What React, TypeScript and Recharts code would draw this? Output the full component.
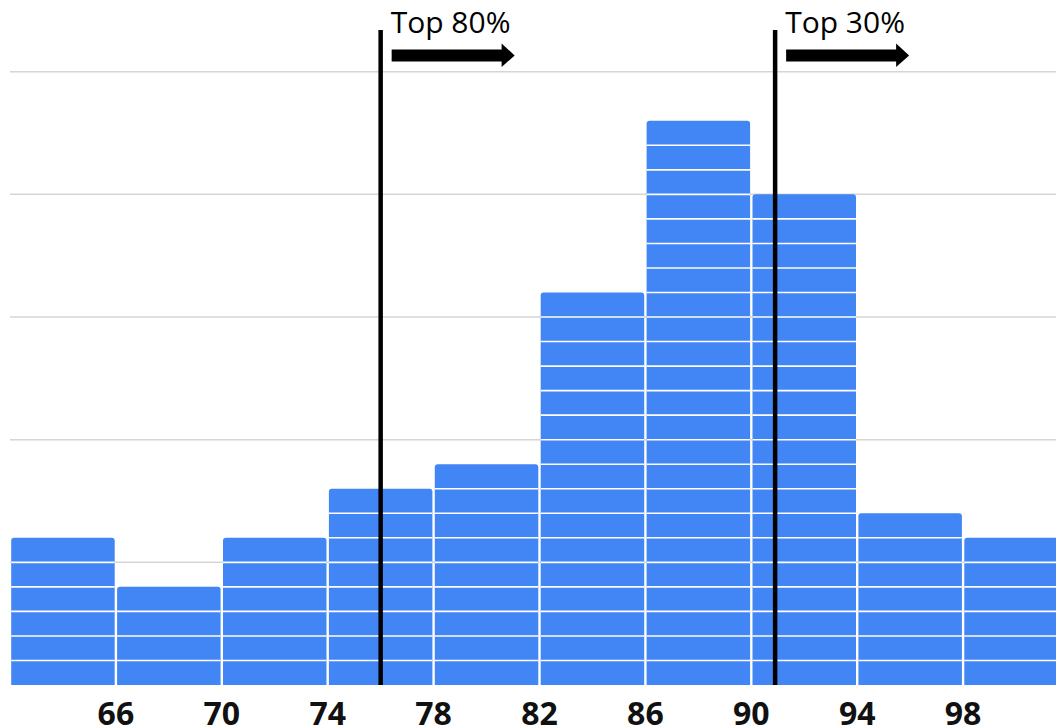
import {
  Bar,
  BarChart,
  CartesianGrid,
  ReferenceLine,
  XAxis,
  YAxis,
} from "recharts";

const binStarts = [62, 66, 70, 74, 78, 82, 86, 90, 94, 98];
const binWidth = 4;
const counts = [6, 4, 6, 8, 9, 16, 23, 20, 7, 6];
const xTicks = [66, 70, 74, 78, 82, 86, 90, 94, 98];
const yGrid = [5, 10, 15, 20, 25];
const cutoffs = [
  { x: 76, label: "Top 80%" },
  { x: 90.9, label: "Top 30%" },
];

const data = binStarts.map((s, i) => ({
  mid: s + binWidth / 2,
  count: counts[i],
}));

const BLUE = "#4285f4";
const FONT = "'Open Sans', 'DejaVu Sans', sans-serif";

// bar drawn as a stack of unit blocks
const BlockBar = (props: any) => {
  const { x, y, width, height, value } = props;
  const v = Array.isArray(value) ? value[1] - value[0] : value;
  if (!height || !v) return null;
  const left = x + 1.2;
  const w = width - 2.5;
  const unit = height / v;
  const r = 3;
  const path = `M${left},${y + height} L${left},${y + r} Q${left},${y} ${left + r},${y} L${left + w - r},${y} Q${left + w},${y} ${left + w},${y + r} L${left + w},${y + height} Z`;
  const seps = [];
  for (let k = 1; k < v; k++) {
    const yy = y + k * unit;
    seps.push(
      <line
        key={k}
        x1={left}
        x2={left + w}
        y1={yy}
        y2={yy}
        stroke="#ffffff"
        strokeWidth={1.6}
      />
    );
  }
  return (
    <g>
      <path d={path} fill={BLUE} />
      {seps}
    </g>
  );
};

const CutoffLabel = (text: string) => (props: any) => {
  const vb = props.viewBox || {};
  const x = vb.x ?? 0;
  const y = vb.y ?? 0;
  return (
    <g>
      <text
        x={x + 10}
        y={y + 3}
        fontFamily={FONT}
        fontSize={30}
        fill="#000"
      >
        {text}
      </text>
      <rect x={x + 11} y={y + 19.5} width={111} height={12} fill="#000" />
      <polygon
        points={`${x + 121},${y + 13.5} ${x + 134},${y + 25.5} ${x + 121},${y + 37}`}
        fill="#000"
      />
    </g>
  );
};

const App = () => (
  <div
    style={{
      position: "absolute",
      left: 0,
      top: 0,
      width: 1056,
      height: 728,
      overflow: "hidden",
      background: "#fff",
    }}
  >
    <BarChart
      width={1070}
      height={728}
      data={data}
      barCategoryGap={0}
      barGap={0}
      margin={{ top: 30, right: 1, bottom: 0, left: 10 }}
    >
      <CartesianGrid
        vertical={false}
        horizontalValues={yGrid}
        stroke="#d6d6d6"
        strokeWidth={1.5}
      />
      <XAxis
        dataKey="mid"
        type="number"
        domain={[62, 102]}
        ticks={xTicks}
        allowDataOverflow
        axisLine={false}
        tickLine={false}
        tickMargin={11}
        height={43}
        tick={{
          fill: "#111",
          fontSize: 32,
          fontWeight: 700,
          fontFamily: FONT,
        }}
      />
      <YAxis hide domain={[0, 26.7]} allowDataOverflow />
      <Bar dataKey="count" shape={BlockBar} isAnimationActive={false} />
      {cutoffs.map((c) => (
        <ReferenceLine
          key={c.label}
          x={c.x}
          stroke="#000"
          strokeWidth={4.5}
          label={CutoffLabel(c.label)}
        />
      ))}
    </BarChart>
  </div>
);

export default App;
